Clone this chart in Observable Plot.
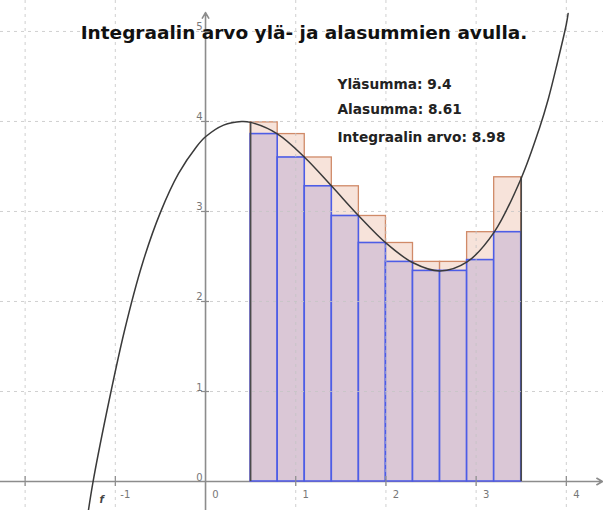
<!DOCTYPE html>
<html>
<head>
<meta charset="utf-8">
<script src="https://cdn.jsdelivr.net/npm/d3@7"></script>
<script src="https://cdn.jsdelivr.net/npm/@observablehq/plot@0.6"></script>
<style>
  html, body { margin: 0; padding: 0; background: #fff; }
  #chart svg { display: block; }
</style>
</head>
<body>
<div id="chart"></div>
<script>
// ---- data ----
const titleText = "Integraalin arvo ylä- ja alasummien avulla.";
const infoLines = ["Yläsumma: 9.4", "Alasumma: 8.61", "Integraalin arvo: 8.98"];

// partition edges of [0.5, 3.5]
const xEdges = [0.5, 0.8, 1.1, 1.4, 1.7, 2.0, 2.3, 2.6, 2.9, 3.2, 3.5];
// upper sum rectangle heights
const upperSum = [3.99, 3.86, 3.60, 3.28, 2.95, 2.65, 2.44, 2.44, 2.77, 3.38];
// lower sum rectangle heights
const lowerSum = [3.86, 3.60, 3.28, 2.95, 2.65, 2.44, 2.34, 2.34, 2.46, 2.77];

// points on the graph of f
const curveX = [-1.31, -1.25, -1.1, -0.9, -0.7, -0.5, -0.3, -0.1, 0.0, 0.2, 0.4, 0.5, 0.8, 1.1, 1.4, 1.7, 2.0, 2.3, 2.6, 2.9, 3.2, 3.5, 3.7, 3.8, 3.9, 4.0, 4.02];
const curveY = [-0.40, -0.02, 0.75, 1.67, 2.42, 2.99, 3.42, 3.72, 3.83, 3.96, 4.00, 3.99, 3.86, 3.60, 3.28, 2.95, 2.65, 2.43, 2.34, 2.44, 2.77, 3.37, 3.92, 4.25, 4.65, 5.08, 5.20];

// grid / ticks
const gridX = [-2, -1, 1, 2, 3, 4];
const gridY = [1, 2, 3, 4, 5];
const xTickValues = [-2, -1, 1, 2, 3, 4];
const yTickValues = [1, 2, 3, 4, 5];
const xLabelValues = [-1, 0, 1, 2, 3, 4];
const xLabelTexts = ["-1", "0", "1", "2", "3", "4"];
const yLabelValues = [0, 1, 2, 3, 4, 5];
const yLabelTexts = ["0", "1", "2", "3", "4", "5"];
const fnName = "f";
const fnLabelX = [-1.15];
const fnLabelY = [-0.2];

// view window
const xDomain = [-2.273, 4.412];
const yDomain = [-0.322, 5.344];
const yAxisTop = 5.21;
const xAxisRight = 4.40;

// ---- build tables ----
const bars = upperSum.map((u, i) => ({x1: xEdges[i], x2: xEdges[i + 1], upper: u, lower: lowerSum[i]}));
const curve = curveX.map((x, i) => ({x, y: curveY[i]}));
const edges = [{x: xEdges[0], h: upperSum[0]}, {x: xEdges[xEdges.length - 1], h: upperSum[upperSum.length - 1]}];
const xLabels = xLabelValues.map((v, i) => ({v, t: xLabelTexts[i]}));
const yLabels = yLabelValues.map((v, i) => ({v, t: yLabelTexts[i]}));

const font = "'DejaVu Sans', 'Liberation Sans', sans-serif";
const axisColor = "#8c8c8c";
const gridColor = "#c4c4c4";
const infoBaselines = [88, 113, 141];

const chart = Plot.plot({
  width: 603,
  height: 510,
  margin: 0,
  style: {fontFamily: font, background: "#fff", overflow: "visible"},
  x: {domain: xDomain, axis: null},
  y: {domain: yDomain, axis: null},
  marks: [
    // axes lines
    Plot.arrow([0], {x1: xDomain[0], x2: xAxisRight, y1: 0, y2: 0, stroke: axisColor, strokeWidth: 1.6, headLength: 6}),
    Plot.arrow([0], {x1: 0, x2: 0, y1: yDomain[0], y2: yAxisTop, stroke: axisColor, strokeWidth: 1.6, headLength: 6}),
    // upper sum
    Plot.rect(bars, {x1: "x1", x2: "x2", y1: 0, y2: "upper", fill: "#f7e3da", stroke: "#d08a68", strokeWidth: 1.3}),
    // lower sum
    Plot.rect(bars, {x1: "x1", x2: "x2", y1: 0, y2: "lower", fill: "#dac7d6", stroke: "#4d5de6", strokeWidth: 1.6}),
    // outer edges
    Plot.ruleX(edges, {x: "x", y1: 0, y2: "h", stroke: "#4a4a4a", strokeWidth: 1.6}),
    // grid
    Plot.ruleX(gridX, {x: d => d, stroke: gridColor, strokeDasharray: "3,4", strokeWidth: 1, strokeOpacity: 0.8}),
    Plot.ruleY(gridY, {y: d => d, stroke: gridColor, strokeDasharray: "3,4", strokeWidth: 1, strokeOpacity: 0.8}),
    // small ticks
    Plot.ruleX(xTickValues, {x: d => d, y1: 0, y2: 0, insetTop: -5, insetBottom: -5, stroke: axisColor, strokeWidth: 1.2}),
    Plot.ruleY(yTickValues, {y: d => d, x1: 0, x2: 0, insetLeft: -4, insetRight: -4, stroke: axisColor, strokeWidth: 1.2}),
    // tick labels
    Plot.text(xLabels, {x: "v", y: 0, text: "t", dx: 10, dy: 16, fontSize: 10, fill: "#777", lineAnchor: "bottom"}),
    Plot.text(yLabels, {x: 0, y: "v", text: "t", dx: -3, dy: -1, fontSize: 10, fill: "#777", textAnchor: "end", lineAnchor: "bottom"}),
    // curve
    Plot.line(curve, {x: "x", y: "y", curve: "catmull-rom", stroke: "#3a3a3a", strokeWidth: 1.5, clip: true}),
    Plot.text([fnName], {x: fnLabelX, y: fnLabelY, text: d => d, fontSize: 10, fontWeight: "bold", fontStyle: "italic", fill: "#444"}),
    // title
    Plot.text([titleText], {frameAnchor: "top-left", dx: 303.5, dy: 38, text: d => d, textAnchor: "middle", lineAnchor: "bottom", fontSize: 18.5, fontWeight: "bold", fill: "#111"}),
    // info lines
    ...infoLines.map((t, i) => Plot.text([t], {frameAnchor: "top-left", dx: 337, dy: infoBaselines[i], text: d => d, textAnchor: "start", lineAnchor: "bottom", fontSize: 13.7, fontWeight: "bold", fill: "#222"}))
  ]
});

document.getElementById("chart").appendChild(chart);
</script>
</body>
</html>
